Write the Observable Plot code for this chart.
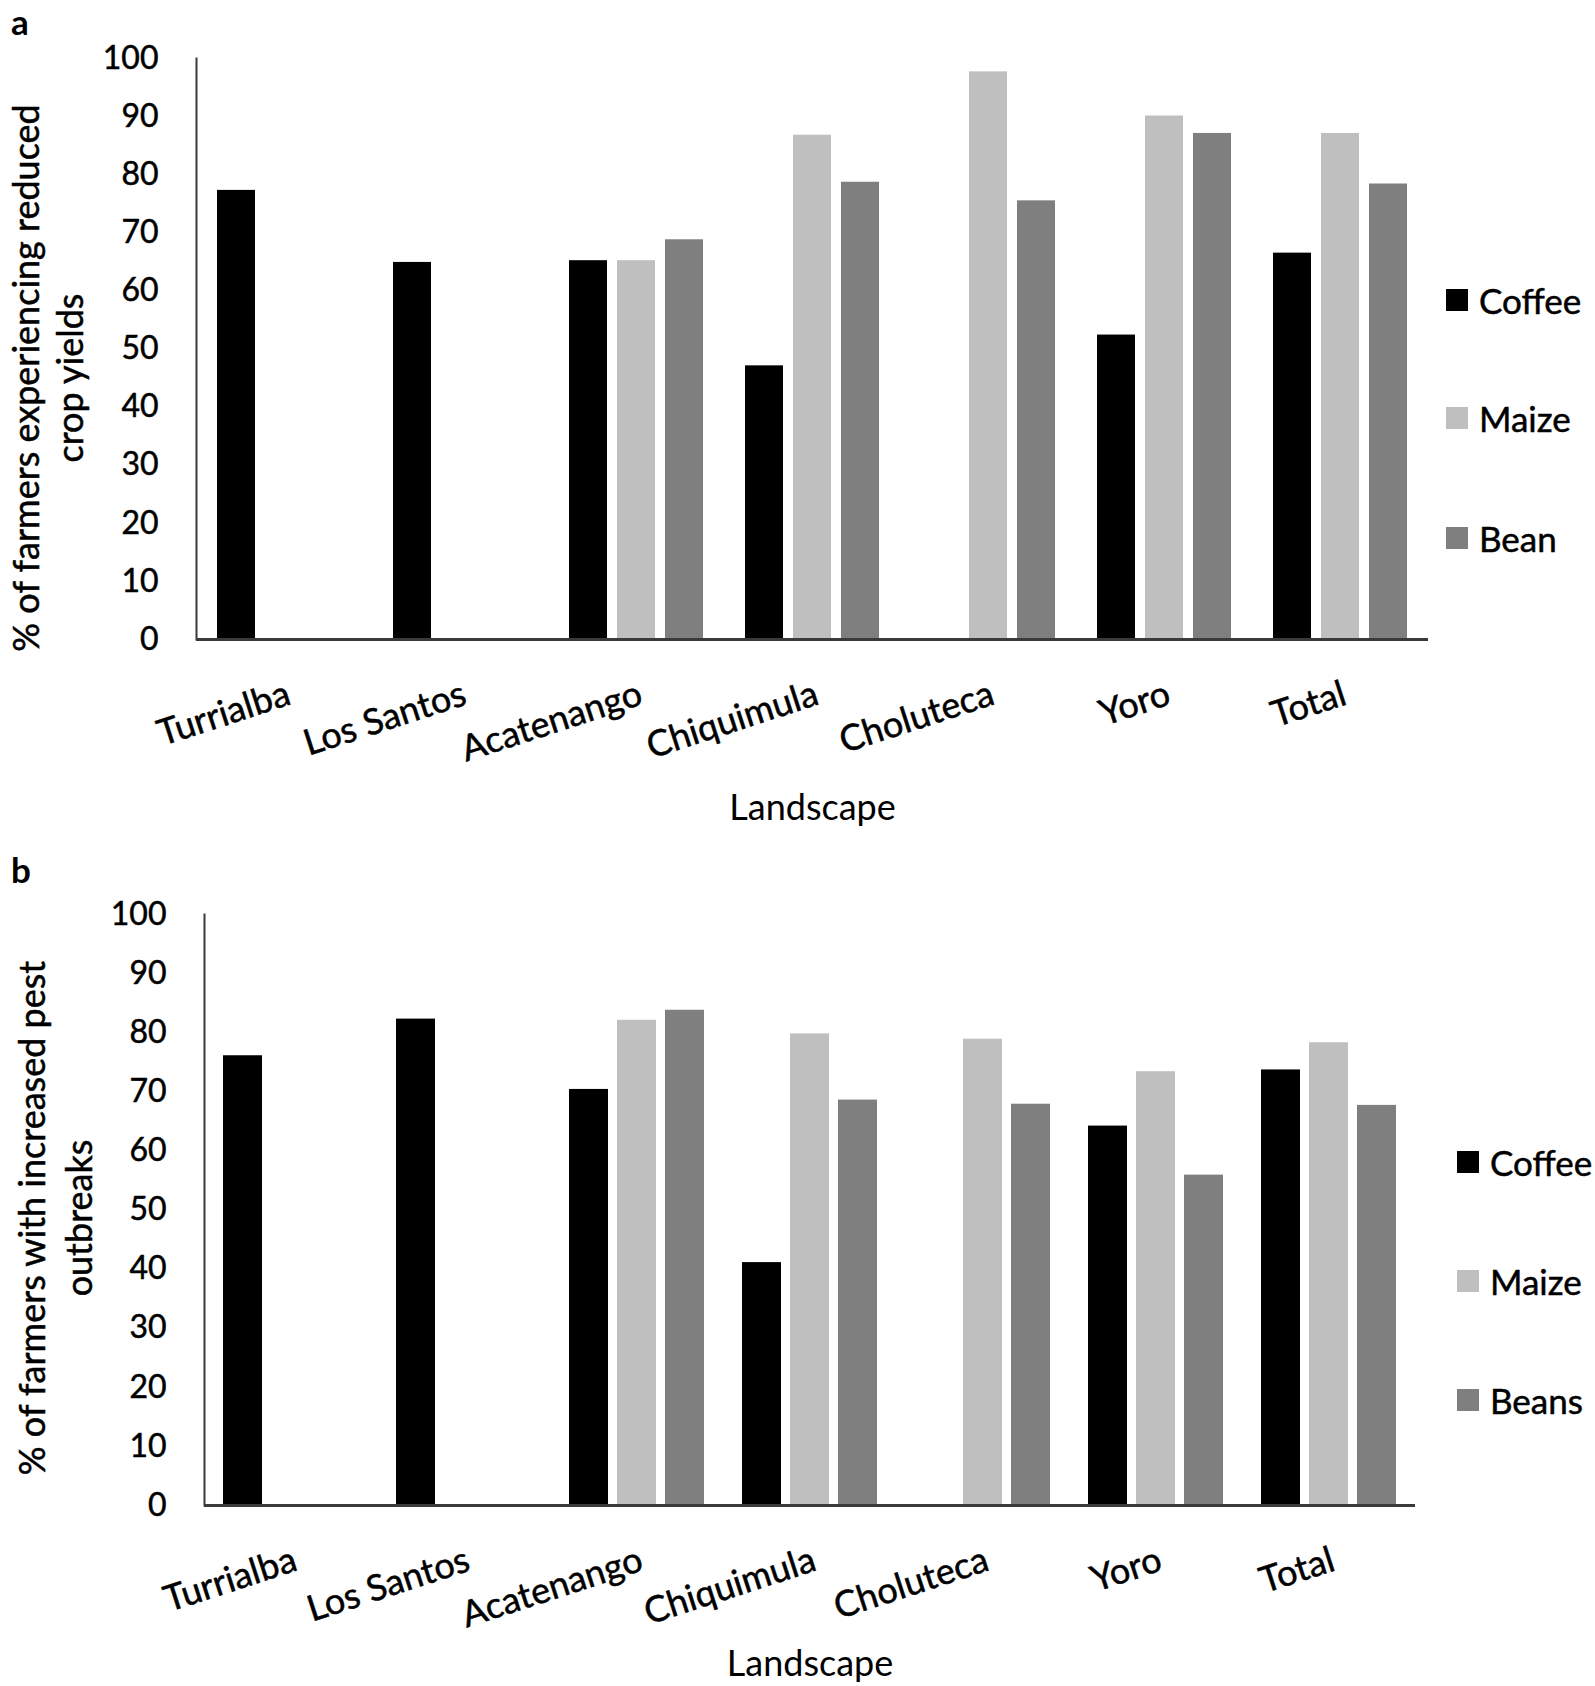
<!DOCTYPE html>
<html>
<head>
<meta charset="utf-8">
<script src="https://cdn.jsdelivr.net/npm/d3@7"></script>
<script src="https://cdn.jsdelivr.net/npm/@observablehq/plot@0.6"></script>
<style>
  body { margin: 0; background: #fff; font-family: Lato, sans-serif; color: #000; }
  #page { position: relative; width: 1595px; height: 1686px; overflow: hidden; background: #fff; }
  .panel { position: absolute; left: 0; }
  .tag { position: absolute; font-weight: bold; font-size: 35px; line-height: 1; }
  .ylab { position: absolute; width: 580px; text-align: center; font-size: 36px; white-space: nowrap;
          -webkit-text-stroke: 0.5px #000;
          transform: translate(-50%, -50%) rotate(-90deg); }
  .item { position: absolute; display: flex; align-items: center; white-space: nowrap; font-size: 35px;
          -webkit-text-stroke: 0.5px #000; transform: translateY(-50%); }
  .sw { width: 22px; height: 22px; margin-right: 11px; }
</style>
</head>
<body>
<div id="page"></div>
<script>
// ---------- data ----------
const landscapes = ["Turrialba", "Los Santos", "Acatenango", "Chiquimula", "Choluteca", "Yoro", "Total"];
const cropsA = ["Coffee", "Maize", "Bean"];
const cropsB = ["Coffee", "Maize", "Beans"];
const yTicks = [0, 10, 20, 30, 40, 50, 60, 70, 80, 90, 100];

// panel a: % of farmers experiencing reduced crop yields
const coffeeA = [77.3, 64.9, 65.2, 47.1, null, 52.4, 66.5];
const maizeA  = [null, null, 65.2, 86.8, 97.7, 90.1, 87.1];
const beanA   = [null, null, 68.8, 78.7, 75.5, 87.1, 78.4];

// panel b: % of farmers with increased pest outbreaks
const coffeeB = [76.1, 82.3, 70.4, 41.1, null, 64.2, 73.7];
const maizeB  = [null, null, 82.1, 79.8, 78.9, 73.4, 78.3];
const beansB  = [null, null, 83.8, 68.6, 67.9, 55.9, 67.7];

const yLabelA = ["% of farmers experiencing reduced", "crop yields"];
const yLabelB = ["% of farmers with increased pest", "outbreaks"];
const xLabel = "Landscape";

// ---------- style ----------
const cropColors = ["#000000", "#bfbfbf", "#7f7f7f"];

function toRows(crops, series) {
  const rows = [];
  landscapes.forEach((l, i) => crops.forEach((c, j) => {
    const v = series[j][i];
    if (v != null) rows.push({landscape: l, crop: c, value: v});
  }));
  return rows;
}

function makeChart(o) {
  return Plot.plot({
    width: o.width, height: o.height,
    marginLeft: o.marginLeft, marginTop: o.marginTop, marginBottom: o.marginBottom, marginRight: o.marginRight,
    style: {fontFamily: "Lato, sans-serif", fontSize: "32px", color: "#000", background: "transparent", overflow: "visible"},
    fx: {domain: landscapes, paddingInner: 0, paddingOuter: 0},
    x: {domain: o.crops, paddingInner: o.padIn, paddingOuter: o.padOut, axis: null},
    y: {domain: [0, 100]},
    color: {domain: o.crops, range: cropColors},
    marks: [
      Plot.barY(toRows(o.crops, o.series), {fx: "landscape", x: "crop", y: "value", fill: "crop"}),
      Plot.ruleY([0], {stroke: "#3a3a3a", strokeWidth: 3}),
      Plot.frame({anchor: "left", facetAnchor: "left", stroke: "#3a3a3a", strokeWidth: 2}),
      Plot.axisY({ticks: yTicks, tickSize: 0, tickPadding: 38, fontSize: 32, label: null,
                  textStroke: "#000", textStrokeWidth: 0.5}),
      Plot.axisFx({anchor: "bottom", tickSize: 0, tickPadding: o.tickPad, tickRotate: -18,
                   textAnchor: "end", lineAnchor: "top", fontSize: 36,
                   textStroke: "#000", textStrokeWidth: 0.5,
                   label: xLabel, labelAnchor: "center", labelOffset: o.labelOffset})
    ]
  });
}

const page = document.getElementById("page");

function addPanel(top, chart) {
  const d = document.createElement("div");
  d.className = "panel";
  d.style.top = top + "px";
  d.appendChild(chart);
  page.appendChild(d);
}

function addTag(txt, left, top) {
  const d = document.createElement("div");
  d.className = "tag"; d.textContent = txt;
  d.style.left = left + "px"; d.style.top = top + "px";
  page.appendChild(d);
}

function addYLabel(lines, cx, cy, lh) {
  const d = document.createElement("div");
  d.className = "ylab";
  d.style.left = cx + "px"; d.style.top = cy + "px"; d.style.lineHeight = lh + "px";
  d.innerHTML = lines.join("<br>");
  page.appendChild(d);
}

function addLegend(crops, left, centers) {
  crops.forEach((c, i) => {
    const it = document.createElement("div");
    it.className = "item";
    it.style.left = left + "px"; it.style.top = centers[i] + "px";
    const sw = document.createElement("div");
    sw.className = "sw"; sw.style.background = cropColors[i];
    const t = document.createElement("span"); t.textContent = c;
    it.appendChild(sw); it.appendChild(t);
    page.appendChild(it);
  });
}

// Panel a
addPanel(0, makeChart({
  crops: cropsA, series: [coffeeA, maizeA, beanA],
  width: 1440, height: 830, marginLeft: 194, marginRight: 10, marginTop: 58, marginBottom: 191,
  padIn: 0.204, padOut: 0.404, tickPad: 40, labelOffset: 180
}));
addTag("a", 11, 4);
addYLabel(yLabelA, 47, 378, 44);
addLegend(cropsA, 1446, [300, 418, 538]);

// Panel b
addPanel(840, makeChart({
  crops: cropsB, series: [coffeeB, maizeB, beansB],
  width: 1425, height: 846, marginLeft: 203, marginRight: 10, marginTop: 74, marginBottom: 181,
  padIn: 0.196, padOut: 0.38, tickPad: 40, labelOffset: 170
}));
addTag("b", 11, 852);
addYLabel(yLabelB, 55, 1218, 47);
addLegend(cropsB, 1457, [1162, 1281, 1400]);
</script>
</body>
</html>
